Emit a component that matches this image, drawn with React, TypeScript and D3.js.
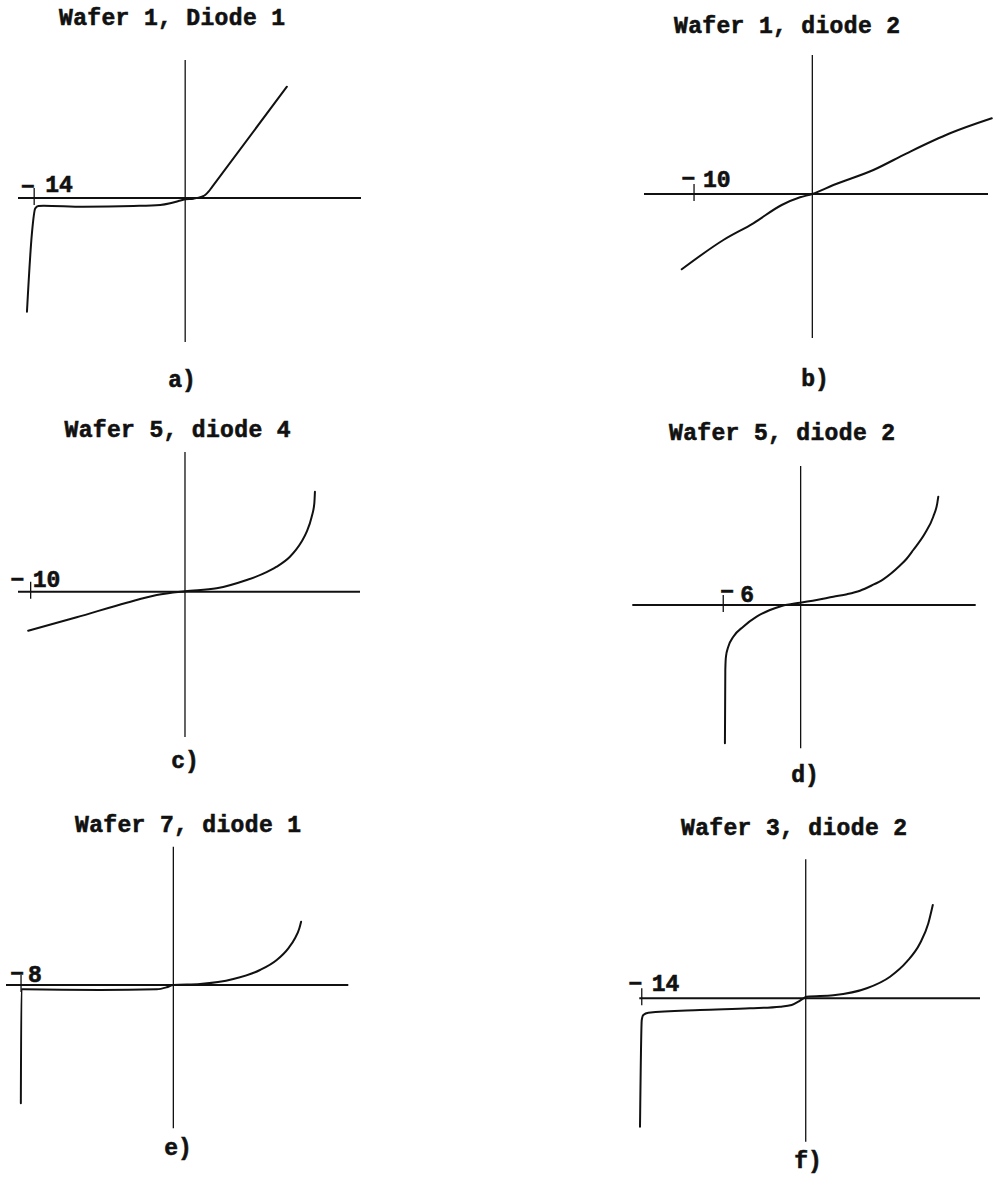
import React from 'react';
import * as d3 from 'd3';

// Panel titles and captions
const panelTitles = [
  'Wafer 1, Diode 1',
  'Wafer 1, diode 2',
  'Wafer 5, diode 4',
  'Wafer 5, diode 2',
  'Wafer 7, diode 1',
  'Wafer 3, diode 2',
];
const panelLetters = ['a)', 'b)', 'c)', 'd)', 'e)', 'f)'];

// The single labelled voltage tick on each horizontal axis (V)
const tickVolts = [-14, -10, -10, -6, -8, -14];

// Axis extents: voltage (V) and current (arbitrary units)
const xDomains: [number, number][] = [
  [-15.5, 16.3], [-14.23, 14.85], [-10.82, 11.34],
  [-13.05, 13.57], [-8.79, 9.19], [-14.21, 14.88],
];
const yDomains: [number, number][] = [
  [-14.4, 13.8], [-14.4, 13.9], [-14.53, 13.97],
  [-14.33, 13.9], [-14.33, 13.83], [-14.34, 13.9],
];

// a) Wafer 1, Diode 1 — sharp breakdown near -14 V, linear forward branch
const voltsA = [-14.67, -14.21, -13.9, -13.6, -13.13, -9.43, -4.79, -2.32, -1.39, -0.62, 0, 0.77, 1.55, 1.85, 2.16, 2.5, 9.43];
const currentA = [-11.37, -3.53, -1.03, -0.8, -0.77, -0.87, -0.8, -0.7, -0.53, -0.3, -0.13, -0.07, 0.13, 0.3, 0.63, 1.12, 11.13];

// b) Wafer 1, diode 2 — resistive, nearly linear
const voltsB = [-11.04, -7.52, -4.99, -2.59, -1.04, 0, 1.78, 5.16, 7.98, 11.64, 15.17];
const currentB = [-7.53, -4.6, -2.93, -1.1, -0.33, 0, 0.9, 2.4, 4.07, 6.07, 7.57];

// c) Wafer 5, diode 4 — leaky reverse branch, exponential forward branch
const voltsC = [-10.16, -7.02, -3.78, -1.83, 0, 2.05, 4.0, 5.0, 5.94, 6.8, 7.2, 7.55, 7.89, 8.21, 8.38, 8.42];
const currentC = [-3.9, -2.56, -1.1, -0.33, 0.05, 0.34, 1.17, 1.75, 2.5, 3.5, 4.2, 5.0, 6.0, 7.5, 8.84, 10.0];

// d) Wafer 5, diode 2 — soft breakdown near -6 V
const voltsD = [-5.87, -5.84, -5.79, -5.61, -5.22, -4.45, -3.41, -2.38, -1.47, -0.05, 1.24, 2.53, 3.6, 4.6, 5.5, 6.4, 7.7, 8.2, 8.73, 9.64, 10.28, 10.59, 10.67];
const currentD = [-13.83, -6.5, -5.17, -4.17, -3.17, -2.17, -1.17, -0.5, -0.1, 0.23, 0.5, 0.83, 1.08, 1.43, 1.95, 2.57, 3.95, 4.6, 5.5, 7.17, 8.83, 10.17, 10.83];

// e) Wafer 7, diode 1 — abrupt breakdown at -8 V
const voltsE = [-8.01, -7.98, -7.84, -3.85, -0.87, -0.35, 0, 1.4, 3.15, 4.55, 5.43, 6.04, 6.39, 6.62, 6.71];
const currentE = [-11.83, -0.43, -0.43, -0.5, -0.43, -0.23, 0, 0.1, 0.6, 1.5, 2.5, 3.67, 4.67, 5.67, 6.33];

// f) Wafer 3, diode 2 — breakdown at -14 V
const voltsF = [-14.15, -14.0, -13.87, -13.44, -9.03, -4.76, -2.19, -1.2, -0.63, -0.2, 0.09, 2.36, 5.21, 7.2, 8.63, 9.76, 10.47, 10.85];
const currentF = [-12.84, -2.17, -1.67, -1.44, -1.17, -1.0, -0.84, -0.67, -0.34, 0, 0.16, 0.3, 1.0, 2.16, 3.66, 5.5, 7.5, 9.33];

const traces = [
  [voltsA, currentA], [voltsB, currentB], [voltsC, currentC],
  [voltsD, currentD], [voltsE, currentE], [voltsF, currentF],
];

// Page placement of each panel
interface Frame {
  x0: number; x1: number; top: number; bottom: number;
  titleX: number; titleY: number;
  letterX: number; letterY: number;
  minusDx: number; minusDy: number; digitsDx: number; digitsDy: number;
}
const frames: Frame[] = [
  { x0: 18, x1: 361, top: 60, bottom: 342, titleX: 172, titleY: 25, letterX: 182, letterY: 387, minusDx: -11.6, minusDy: -11, digitsDx: 11, digitsDy: -6 },
  { x0: 644, x1: 988, top: 55, bottom: 338, titleX: 787, titleY: 33, letterX: 815, letterY: 386, minusDx: -11, minusDy: -15, digitsDx: 9, digitsDy: -7 },
  { x0: 18, x1: 360, top: 452, bottom: 737, titleX: 177.5, titleY: 436.5, letterX: 185, letterY: 768, minusDx: -18.7, minusDy: -11.7, digitsDx: 2, digitsDy: -5 },
  { x0: 632.3, x1: 975.7, top: 466, bottom: 748.3, titleX: 782, titleY: 439.5, letterX: 805, letterY: 782, minusDx: -1.6, minusDy: -13.3, digitsDx: 17, digitsDy: -3 },
  { x0: 6, x1: 348.3, top: 846.7, bottom: 1128.3, titleX: 188, titleY: 831.5, letterX: 178, letterY: 1155, minusDx: -9.3, minusDy: -11, digitsDx: 7, digitsDy: -3 },
  { x0: 639.3, x1: 980, top: 859.3, bottom: 1141.7, titleX: 794, titleY: 835, letterX: 808, letterY: 1168, minusDx: -11.7, minusDy: -14.3, digitsDx: 10, digitsDy: -7 },
];

const FONT = "'Liberation Mono', 'DejaVu Sans Mono', monospace";
const INK = '#111';
const textStyle = { stroke: INK, strokeWidth: 0.6 } as const;

function Panel({ i }: { i: number }) {
  const f = frames[i];
  const x = d3.scaleLinear().domain(xDomains[i]).range([f.x0, f.x1]);
  const y = d3.scaleLinear().domain(yDomains[i]).range([f.bottom, f.top]);
  const [vs, cs] = traces[i];
  const pts: [number, number][] = vs.map((v, k) => [v, cs[k]]);
  const line = d3
    .line<[number, number]>()
    .x((d) => x(d[0]))
    .y((d) => y(d[1]))
    .curve(d3.curveMonotoneX);

  const ox = x(0);
  const oy = y(0);
  const tx = x(tickVolts[i]);
  const mag = String(Math.abs(tickVolts[i]));

  return (
    <g>
      <text
        x={f.titleX}
        y={f.titleY}
        textAnchor="middle"
        fontFamily={FONT}
        fontWeight="bold"
        fontSize={23}
        textLength={226}
        lengthAdjust="spacing"
        fill={INK}
        style={textStyle}
      >
        {panelTitles[i]}
      </text>

      {/* axes */}
      <line x1={ox} x2={ox} y1={f.top} y2={f.bottom} stroke={INK} strokeWidth={1.3} />
      <line x1={f.x0} x2={f.x1} y1={oy} y2={oy} stroke={INK} strokeWidth={2} />

      {/* voltage tick */}
      <line x1={tx} x2={tx} y1={oy - 10} y2={oy + 7} stroke={INK} strokeWidth={1.3} />
      <text fontFamily={FONT} fontWeight="bold" fontSize={23} fill={INK} style={textStyle}>
        <tspan x={tx + f.minusDx - 1.5} y={oy + f.minusDy + 7}>−</tspan>
        <tspan x={tx + f.digitsDx} y={oy + f.digitsDy}>{mag}</tspan>
      </text>

      {/* I–V trace */}
      <path d={line(pts) ?? ''} fill="none" stroke={INK} strokeWidth={2} strokeLinejoin="round" strokeLinecap="round" />

      <text
        x={f.letterX}
        y={f.letterY}
        textAnchor="middle"
        fontFamily={FONT}
        fontWeight="bold"
        fontSize={23}
        fill={INK}
        style={textStyle}
      >
        {panelLetters[i]}
      </text>
    </g>
  );
}

export default function App() {
  return (
    <svg
      width={993}
      height={1177}
      viewBox="0 0 993 1177"
      style={{ position: 'absolute', left: 0, top: 0, background: '#fff' }}
    >
      <rect width={993} height={1177} fill="#fff" />
      {panelTitles.map((_, i) => (
        <Panel key={i} i={i} />
      ))}
    </svg>
  );
}
